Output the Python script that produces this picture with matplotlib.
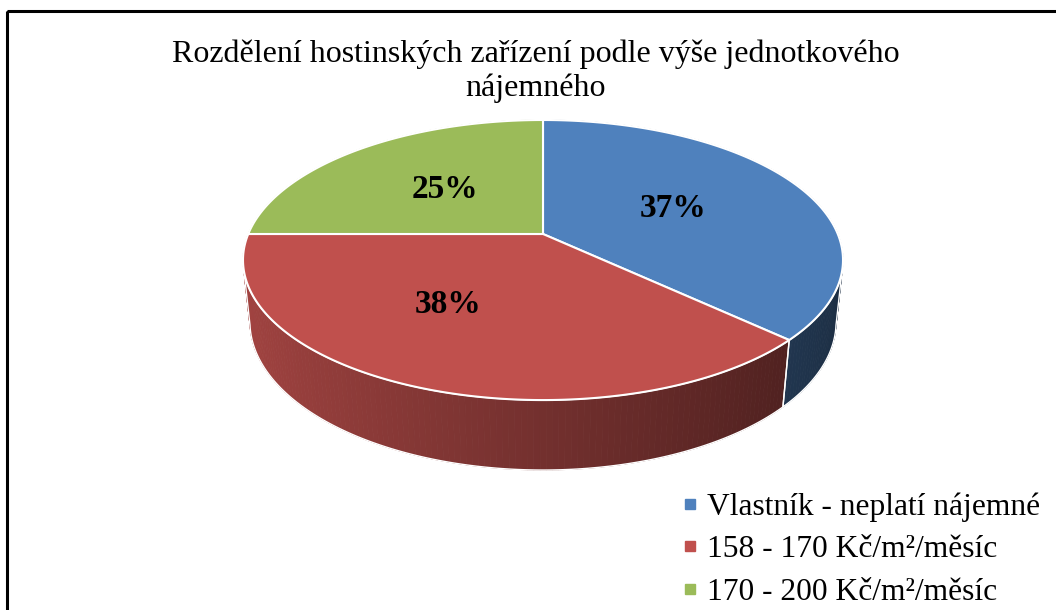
import numpy as np
import matplotlib.pyplot as plt
from matplotlib.patches import Polygon, Rectangle
from matplotlib.lines import Line2D
import matplotlib.colors as mcolors

plt.rcParams['font.family'] = ['Liberation Serif', 'DejaVu Serif']

title = "Rozdělení hostinských zařízení podle výše jednotkového\nnájemného"
labels = ["Vlastník - neplatí nájemné",
          "158 - 170 Kč/m²/měsíc",
          "170 - 200 Kč/m²/měsíc"]
values = [37, 38, 25]
colors = ["#4F81BD", "#C0504D", "#9BBB59"]

# camera for the 3D look (tilted disc seen in perspective)
el = np.radians(27.3)
dist = 4.78
F = 1409.0
H = 0.238
cx, cy = 543.0, 234.0

# where the % labels sit inside each slice (radius, angle shift in degrees)
lab_r = [0.5, 0.56, 0.5]
lab_shift = [0, -10, 0]


def proj(x, y, z):
    depth = dist + y * np.cos(el) - z * np.sin(el)
    X = cx + F * x / depth
    Y = cy - F * (y * np.sin(el) + z * np.cos(el)) / depth
    return X, Y


def shade(base, phi):
    # darker on the right, lighter on the left
    f = 0.6 - 0.25 * np.cos(phi)
    r, g, b = mcolors.to_rgb(base)
    return (r * f, g * f, b * f)


fig = plt.figure(figsize=(10.56, 6.10), dpi=100)
ax = fig.add_axes([0, 0, 1, 1])
ax.set_xlim(0, 1056)
ax.set_ylim(610, 0)
ax.axis('off')

# chart frame (continues past the right and bottom edge)
ax.add_patch(Rectangle((7, 11), 1100, 700, fill=False, edgecolor='black', lw=2.2, zorder=0))

total = float(sum(values))
# slices start at 12 o'clock and go clockwise
bounds = [np.pi / 2]
for v in values:
    bounds.append(bounds[-1] - 2 * np.pi * v / total)

# side walls: small segments, back ones first
segs = []
for i in range(len(values)):
    a0, a1 = bounds[i], bounds[i + 1]
    n = max(int(abs(a1 - a0) / np.radians(1.0)), 2)
    t = np.linspace(a0, a1, n + 1)
    for j in range(n):
        p, q = t[j], t[j + 1]
        mid = 0.5 * (p + q)
        segs.append((np.sin(mid), i, p, q, mid))
segs.sort(key=lambda s: -s[0])
for s, i, p, q, mid in segs:
    pts = [proj(np.cos(p), np.sin(p), 0), proj(np.cos(q), np.sin(q), 0),
           proj(np.cos(q), np.sin(q), -H), proj(np.cos(p), np.sin(p), -H)]
    c = shade(colors[i], mid)
    ax.add_patch(Polygon(pts, closed=True, facecolor=c, edgecolor=c, lw=0.6, zorder=2))

# white outlines of the visible walls per slice
for i in range(len(values)):
    a0, a1 = bounds[i], bounds[i + 1]
    t = np.linspace(a0, a1, 200)
    t = t[np.sin(t) < -0.2]
    if len(t) < 2:
        continue
    top = [proj(np.cos(a), np.sin(a), 0) for a in t]
    bot = [proj(np.cos(a), np.sin(a), -H) for a in t[::-1]]
    ax.add_patch(Polygon(top + bot, closed=True, fill=False, edgecolor='white', lw=1.0, zorder=3))

# top faces
for i in range(len(values)):
    t = np.linspace(bounds[i], bounds[i + 1], 300)
    pts = [proj(0, 0, 0)] + [proj(np.cos(a), np.sin(a), 0) for a in t]
    ax.add_patch(Polygon(pts, closed=True, facecolor=colors[i], edgecolor='white', lw=1.5, zorder=4))

# percentage labels
for i, v in enumerate(values):
    mid = 0.5 * (bounds[i] + bounds[i + 1]) + np.radians(lab_shift[i])
    X, Y = proj(lab_r[i] * np.cos(mid), lab_r[i] * np.sin(mid), 0)
    ax.text(X, Y, f"{v / total * 100:.0f}%", ha='center', va='center',
            fontsize=24, fontweight='bold', color='black', zorder=5)

ax.text(536, 71, title, ha='center', va='center', fontsize=23, linespacing=1.22)

handles = [Line2D([], [], marker='s', ls='none', markersize=7,
                  markerfacecolor=c, markeredgecolor=c) for c in colors]
ax.legend(handles, labels, loc='upper left', bbox_to_anchor=(0.644, 0.193),
          frameon=False, fontsize=22.7, handlelength=0.6, handletextpad=0.27,
          labelspacing=0.43, borderpad=0, borderaxespad=0)

fig.savefig("out.png", dpi=100)
